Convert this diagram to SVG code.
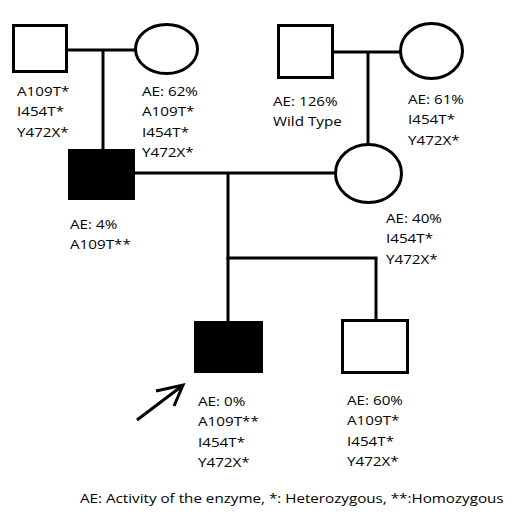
<svg xmlns="http://www.w3.org/2000/svg" width="520" height="519" viewBox="0 0 520 519">
<style>
.ln{stroke:#000;stroke-width:3;fill:none;stroke-linecap:butt}
.sq{fill:#fff;stroke:#000;stroke-width:3}
.aff{fill:#000;stroke:#000;stroke-width:1}
.el{fill:#fff;stroke:#000;stroke-width:3}
.t{font-family:"Open Sans","Noto Sans",sans-serif;font-size:13px;fill:#000}
</style>
<rect width="520" height="519" fill="#fff"/>
<g id="connectors">
<line class="ln" x1="67" y1="50" x2="135" y2="50"/>
<line class="ln" x1="103" y1="50" x2="103" y2="149"/>
<line class="ln" x1="135" y1="173" x2="335" y2="173"/>
<line class="ln" x1="333" y1="52" x2="400" y2="52"/>
<line class="ln" x1="368" y1="52" x2="368" y2="144"/>
<line class="ln" x1="228" y1="173" x2="228" y2="321"/>
<line class="ln" x1="226.5" y1="258" x2="377.5" y2="258"/>
<line class="ln" x1="376" y1="258" x2="376" y2="320"/>
</g>
<g id="gf1">
<rect class="sq" x="13.5" y="25.5" width="53" height="46"/>
<text class="t" transform="matrix(1.17,0,0,1,17,96)"><tspan x="0" y="0">A109T*</tspan><tspan x="0" y="20.5">I454T*</tspan><tspan x="0" y="41">Y472X*</tspan></text>
</g>
<g id="gm1">
<ellipse class="el" cx="166.5" cy="49" rx="31" ry="24.5"/>
<text class="t" transform="matrix(1.17,0,0,1,142,96)"><tspan x="0" y="0">AE: 62%</tspan><tspan x="0" y="20.5">A109T*</tspan><tspan x="0" y="41">I454T*</tspan><tspan x="0" y="61.5">Y472X*</tspan></text>
</g>
<g id="gf2">
<rect class="sq" x="278.5" y="25.5" width="54" height="52"/>
<text class="t" transform="matrix(1.17,0,0,1,273,106)"><tspan x="0" y="0">AE: 126%</tspan><tspan x="0" y="20.5">Wild Type</tspan></text>
</g>
<g id="gm2">
<ellipse class="el" cx="431.5" cy="51" rx="31" ry="27.5"/>
<text class="t" transform="matrix(1.17,0,0,1,408,104)"><tspan x="0" y="0">AE: 61%</tspan><tspan x="0" y="20.5">I454T*</tspan><tspan x="0" y="41">Y472X*</tspan></text>
</g>
<g id="father">
<rect class="aff" x="68.5" y="149.5" width="66" height="50"/>
<text class="t" transform="matrix(1.17,0,0,1,70,229)"><tspan x="0" y="0">AE: 4%</tspan><tspan x="0" y="20.5">A109T**</tspan></text>
</g>
<g id="mother">
<ellipse class="el" cx="368.5" cy="173.5" rx="33" ry="29"/>
<text class="t" transform="matrix(1.17,0,0,1,386,223)"><tspan x="0" y="0">AE: 40%</tspan><tspan x="0" y="20.5">I454T*</tspan><tspan x="0" y="41">Y472X*</tspan></text>
</g>
<g id="proband">
<rect class="aff" x="194.5" y="321.5" width="68" height="51"/>
<text class="t" transform="matrix(1.17,0,0,1,198,406)"><tspan x="0" y="0">AE: 0%</tspan><tspan x="0" y="20.5">A109T**</tspan><tspan x="0" y="41">I454T*</tspan><tspan x="0" y="61.5">Y472X*</tspan></text>
</g>
<g id="sibling">
<rect class="sq" x="342.5" y="320.5" width="65" height="52"/>
<text class="t" transform="matrix(1.17,0,0,1,347,405)"><tspan x="0" y="0">AE: 60%</tspan><tspan x="0" y="20.5">A109T*</tspan><tspan x="0" y="41">I454T*</tspan><tspan x="0" y="61.5">Y472X*</tspan></text>
</g>
<g id="arrow">
<line class="ln" x1="137" y1="420" x2="182" y2="386"/>
<polyline class="ln" points="156,391 183,385 174,406" stroke-linejoin="miter"/>
</g>
<g id="legend">
<text class="t" transform="matrix(1.17,0,0,1,80,503)">AE: Activity of the enzyme, *: Heterozygous, **:Homozygous</text>
</g>
</svg>
